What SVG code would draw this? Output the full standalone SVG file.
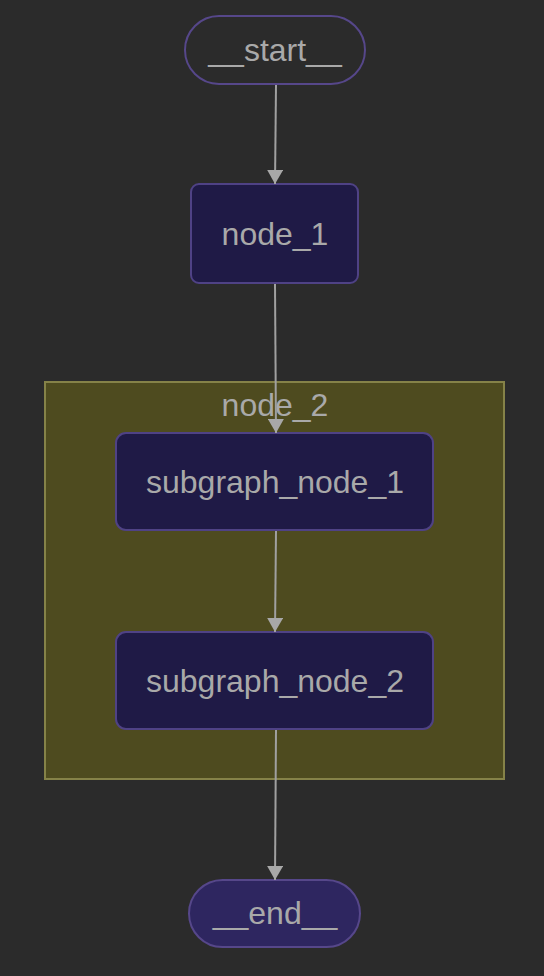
<svg xmlns="http://www.w3.org/2000/svg" width="544" height="976" viewBox="0 0 544 976">
<defs>
<style>
.lbl{font-family:"Liberation Sans",Arial,sans-serif;font-size:32px;fill:#a9a9a9;text-anchor:middle;dominant-baseline:central}
.node{fill:#1f1a46;stroke:#4f4285;stroke-width:2}
.edge{stroke:#a0a0a0;stroke-width:2;fill:none}
</style>
<marker id="arr" viewBox="0 0 14 16" refX="14" refY="8" markerWidth="14" markerHeight="16" markerUnits="userSpaceOnUse" orient="auto">
<path d="M0,0 L14,8 L0,16 Z" fill="#a8a8a8"/>
</marker>
</defs>
<rect width="544" height="976" fill="#2b2b2b"/>
<g id="cluster_node_2">
<rect x="45" y="382" width="459" height="397" fill="#4e4b1f" stroke="#858248" stroke-width="2"/>
<text class="lbl" x="275" y="405">node_2</text>
</g>
<g id="start">
<rect x="185" y="16" width="180" height="68" rx="34" fill="#2b2b2b" stroke="#56478a" stroke-width="2"/>
<text class="lbl" x="275" y="50">__start__</text>
</g>
<g id="node_1">
<rect class="node" x="191" y="184" width="167" height="99" rx="8"/>
<text class="lbl" x="275" y="234">node_1</text>
</g>
<g id="subgraph_node_1">
<rect class="node" x="116" y="433" width="317" height="97" rx="10"/>
<text class="lbl" x="275" y="482">subgraph_node_1</text>
</g>
<g id="subgraph_node_2">
<rect class="node" x="116" y="632" width="317" height="97" rx="10"/>
<text class="lbl" x="275" y="681">subgraph_node_2</text>
</g>
<g id="end">
<rect x="189" y="880" width="171" height="67" rx="33.5" fill="#2e2660" stroke="#56478a" stroke-width="2"/>
<text class="lbl" x="275" y="913">__end__</text>
</g>
<g id="connectors">
<path class="edge" d="M276,85 L275,184" marker-end="url(#arr)"/>
<path class="edge" d="M275,284 L276,433" marker-end="url(#arr)"/>
<path class="edge" d="M276,531 L275,632" marker-end="url(#arr)"/>
<path class="edge" d="M276,730 L275,880" marker-end="url(#arr)"/>
</g>
</svg>
